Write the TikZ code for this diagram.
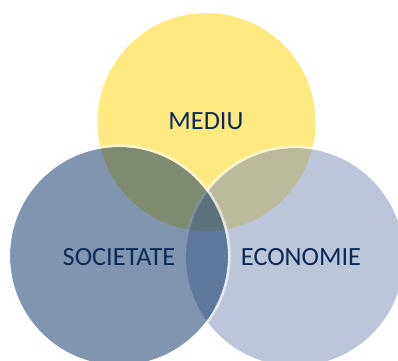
\documentclass[tikz,border=0pt]{standalone}
\usepackage{fontspec}
\setmainfont{Carlito}
\definecolor{ycol}{RGB}{255,213,5}
\definecolor{lcol}{RGB}{1,45,97}
\definecolor{rcol}{RGB}{121,139,179}
\definecolor{tcol}{RGB}{10,42,90}
\begin{document}
\begin{tikzpicture}[x=1pt,y=-1pt,
  venn/.style={circle,minimum size=218pt,inner sep=0pt,fill opacity=0.5,draw=none},
  rim/.style={draw=white,draw opacity=0.6,line width=2.6pt},
  lbl/.style={text=tcol,font=\fontsize{26.3}{30}\selectfont,inner sep=0pt}]
\useasboundingbox (0,0) rectangle (398,360);
\clip (0,0) rectangle (398,360);
\node[venn,fill=ycol] (mediu) at (206.5,122) {};
\node[venn,fill=rcol] (econ) at (295,257) {};
\draw[rim] (econ.center) circle[radius=110.3pt];
\node[venn,fill=lcol] (soc) at (119,256) {};
\draw[rim] (soc.center) circle[radius=110.3pt];
\node[lbl] (tm) at (206,121) {MEDIU};
\node[lbl] (ts) at (119,257) {SOCIETATE};
\node[lbl] (te) at (301,257) {ECONOMIE};
\end{tikzpicture}
\end{document}
